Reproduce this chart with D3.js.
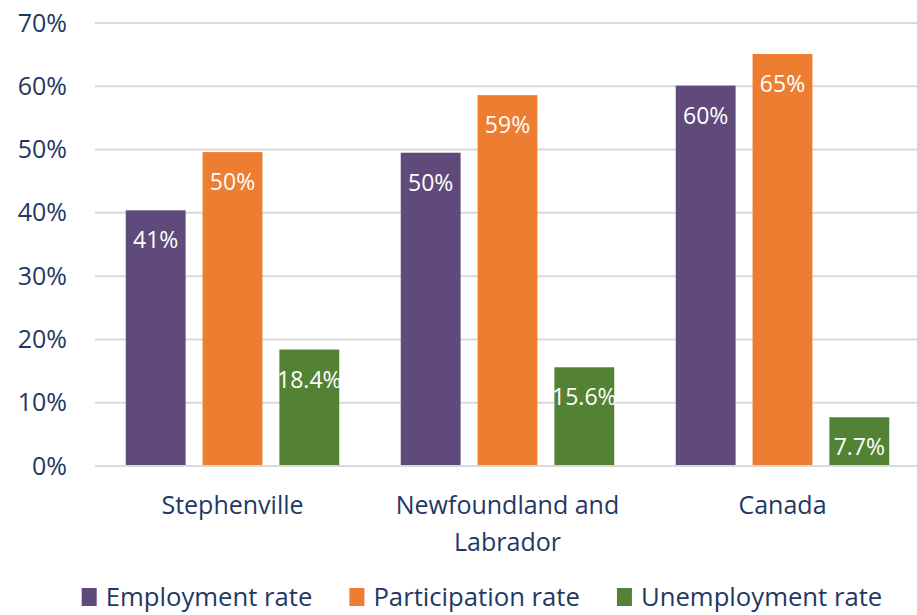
<!DOCTYPE html>
<html><head><meta charset="utf-8">
<script src="https://cdn.jsdelivr.net/npm/d3@7"></script>
<style>body{margin:0;background:#fff}svg{display:block}</style>
</head><body>
<script>
const categories = [["Stephenville"], ["Newfoundland and", "Labrador"], ["Canada"]];
const seriesNames = ["Employment rate", "Participation rate", "Unemployment rate"];
const employment = [40.4, 49.5, 60.1];
const participation = [49.6, 58.6, 65.1];
const unemployment = [18.4, 15.6, 7.7];
const labelsEmployment = ["41%", "50%", "60%"];
const labelsParticipation = ["50%", "59%", "65%"];
const labelsUnemployment = ["18.4%", "15.6%", "7.7%"];
const yTicks = [0, 10, 20, 30, 40, 50, 60, 70];
const colors = ["#604A7B", "#ED7D31", "#548235"];

const W = 917, H = 615;
const font = "'Open Sans', sans-serif";
const textColor = "#1F3864";
const svg = d3.select("body").append("svg").attr("width", W).attr("height", H);

const x0 = d3.scaleBand().domain(d3.range(categories.length)).range([95, 920]).paddingInner(0).paddingOuter(0);
const x1 = d3.scaleBand().domain(d3.range(3)).range([30.75, x0.bandwidth() - 30.75]).paddingInner(17/77).paddingOuter(0);
const y = d3.scaleLinear().domain([0, 70]).range([466, 23]);

// gridlines
svg.append("g").selectAll("line").data(yTicks).join("line")
  .attr("x1", 95).attr("x2", W).attr("y1", d => y(d)).attr("y2", d => y(d))
  .attr("stroke", "#D9D9D9").attr("stroke-width", 2);

// y axis labels
const yAxis = svg.append("g").attr("transform", "translate(67,0)")
  .call(d3.axisLeft(y).tickValues(yTicks).tickFormat(d => d + "%").tickSize(0).tickPadding(0));
yAxis.select(".domain").remove();
yAxis.selectAll("text").attr("font-family", font).attr("font-size", 25).attr("fill", textColor);

const series = [
  {vals: employment, labels: labelsEmployment},
  {vals: participation, labels: labelsParticipation},
  {vals: unemployment, labels: labelsUnemployment}
];

const groups = svg.append("g").selectAll("g").data(categories).join("g")
  .attr("transform", (d, i) => `translate(${x0(i)},0)`);

series.forEach((s, si) => {
  groups.append("rect")
    .attr("x", x1(si)).attr("width", x1.bandwidth())
    .attr("y", (d, i) => y(s.vals[i])).attr("height", (d, i) => y(0) - y(s.vals[i]))
    .attr("fill", colors[si]);
  groups.append("text")
    .attr("x", x1(si) + x1.bandwidth() / 2)
    .attr("y", (d, i) => y(s.vals[i]) + 30)
    .attr("dy", "0.35em")
    .attr("text-anchor", "middle")
    .attr("font-family", font).attr("font-size", 23).attr("fill", "#fff")
    .text((d, i) => s.labels[i]);
});

// baseline
svg.append("line").attr("x1", 95).attr("x2", W).attr("y1", y(0)).attr("y2", y(0))
  .attr("stroke", "#D9D9D9").attr("stroke-width", 2);

// category labels
groups.each(function(lines, i) {
  const t = d3.select(this).append("text")
    .attr("text-anchor", "middle").attr("font-family", font).attr("font-size", 25).attr("fill", textColor);
  lines.forEach((ln, li) => {
    t.append("tspan").attr("x", x0.bandwidth() / 2).attr("y", 505 + li * 37).attr("dy", "0.35em").text(ln);
  });
});

// legend
const leg = svg.append("g");
const items = leg.selectAll("g").data(seriesNames).join("g");
items.append("rect").attr("width", 15).attr("height", 18).attr("y", 588).attr("fill", (d, i) => colors[i]);
items.append("text").attr("x", 24).attr("y", 597).attr("dy", "0.35em")
  .attr("font-family", font).attr("font-size", 25.7).attr("fill", textColor).text(d => d);
let xpos = 0; const offs = [];
items.each(function() {
  offs.push(xpos);
  xpos += 24 + d3.select(this).select("text").node().getComputedTextLength() + 37;
});
const total = xpos - 37;
const start = 482 - total / 2;
items.attr("transform", (d, i) => `translate(${start + offs[i]},0)`);
</script>
</body></html>
